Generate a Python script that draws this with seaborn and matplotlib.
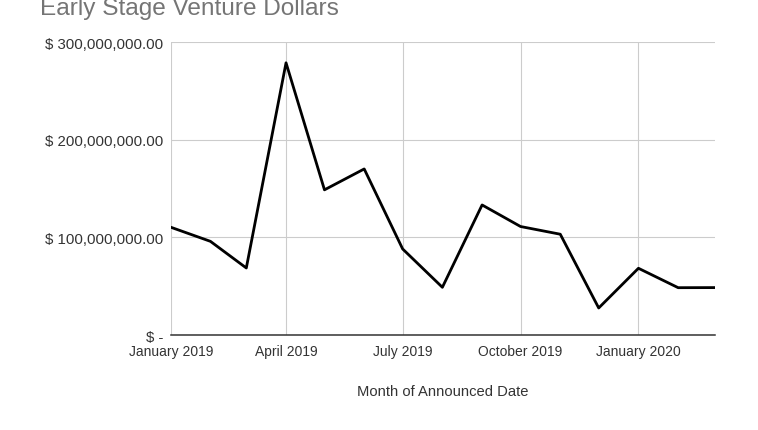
import matplotlib
matplotlib.use("Agg")
import matplotlib.pyplot as plt
import matplotlib.dates as mdates
from matplotlib.ticker import FuncFormatter, FixedLocator
import pandas as pd
import seaborn as sns

months = ["2019-01", "2019-02", "2019-03", "2019-04", "2019-05", "2019-06",
          "2019-07", "2019-08", "2019-09", "2019-10", "2019-11", "2019-12",
          "2020-01", "2020-02", "2020-03"]
dollars = [110_500_000, 96_000_000, 68_700_000, 279_000_000, 148_800_000,
           170_200_000, 88_200_000, 48_900_000, 133_300_000, 111_200_000,
           103_300_000, 27_700_000, 68_400_000, 48_500_000, 48_600_000]
tick_months = ["2019-01", "2019-04", "2019-07", "2019-10", "2020-01"]
tick_labels = ["January 2019", "April 2019", "July 2019", "October 2019", "January 2020"]
y_ticks = [0, 100_000_000, 200_000_000, 300_000_000]

df = pd.DataFrame({"month": pd.to_datetime(months), "dollars": dollars})

sns.set_theme(style="white")
plt.rcParams["font.family"] = ["Liberation Sans", "DejaVu Sans"]

fig = plt.figure(figsize=(7.58, 4.31), dpi=100)
ax = fig.add_axes([0.2252, 0.2204, 0.9437 - 0.2252, 0.8995 - 0.2204])

sns.lineplot(data=df, x="month", y="dollars", ax=ax, color="black",
             linewidth=2.0, zorder=3)

ax.set_xlim(pd.Timestamp("2019-01-01"), pd.Timestamp("2020-03-01"))
ax.set_ylim(0, 300_000_000)

ax.xaxis.set_major_locator(FixedLocator(mdates.date2num(pd.to_datetime(tick_months))))
ax.set_xticklabels(tick_labels)
ax.yaxis.set_major_locator(FixedLocator(y_ticks))


def money(v, _pos):
    if v == 0:
        return "$ -"
    return "$ {:,.2f}".format(v)


ax.yaxis.set_major_formatter(FuncFormatter(money))

ax.grid(True, color="#cccccc", linewidth=0.8)
for side in ("top", "right", "left"):
    ax.spines[side].set_visible(False)
ax.spines["bottom"].set_color("#333333")
ax.spines["bottom"].set_linewidth(1.1)
ax.spines["bottom"].set_zorder(4)

ax.tick_params(axis="y", length=0, pad=5.5, labelsize=10.8, labelcolor="#333333")
ax.tick_params(axis="x", length=0, pad=6.5, labelsize=10.0, labelcolor="#333333")

ax.set_xlabel("Month of Announced Date", fontsize=10.6, color="#333333", labelpad=19)
ax.set_ylabel("")

fig.text(40 / 758, 1 - 15 / 431, "Early Stage Venture Dollars", fontsize=17.6,
         color="#757575", ha="left", va="baseline")

fig.savefig("out.png", dpi=100)
